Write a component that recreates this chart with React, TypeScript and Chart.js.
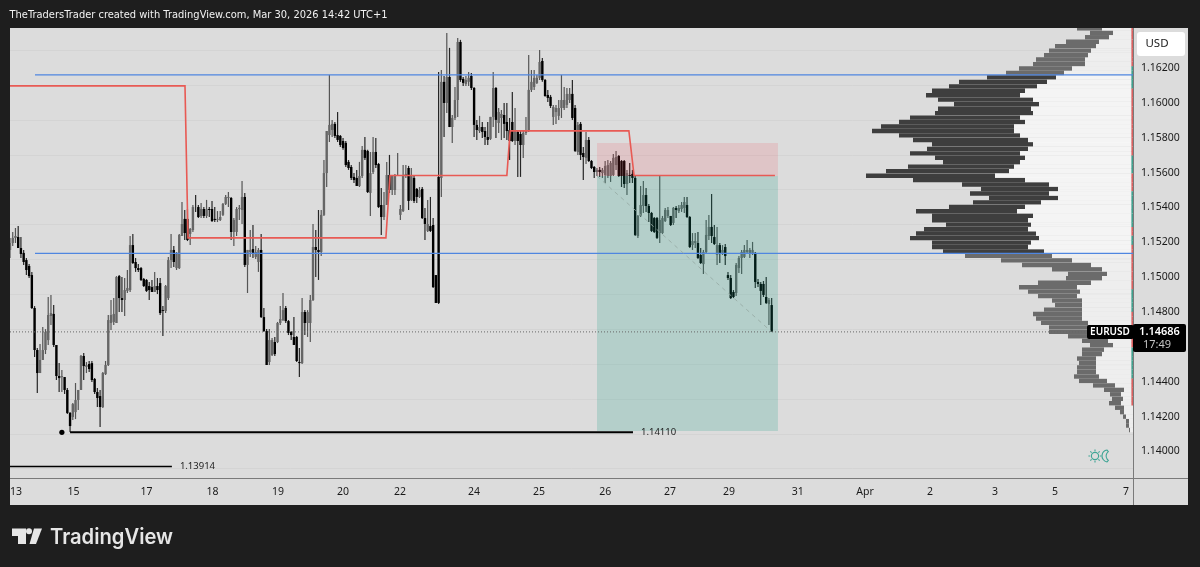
import React, { useEffect, useRef } from "react";
import { Chart, registerables } from "chart.js";

Chart.register(...registerables);

const opens = [
1.15156,1.15196,1.15225,1.15230,1.15167,1.15139,1.15098,1.15064,1.15012,1.14823,
1.14582,1.14450,1.14525,1.14582,1.14639,1.14777,1.14789,1.14611,1.14433,1.14427,
1.14427,1.14353,1.14221,1.14198,1.14226,1.14295,1.14353,1.14548,1.14485,1.14502,
1.14507,1.14416,1.14341,1.14318,1.14255,1.14444,1.14496,1.14737,1.14743,1.14737,
1.15006,1.14880,1.14869,1.14921,1.14926,1.15184,1.15087,1.15052,1.15052,1.14989,
1.14984,1.14949,1.14943,1.14915,1.14949,1.14966,1.14811,1.14806,1.14880,1.15098,
1.15156,1.15052,1.15052,1.15236,1.15334,1.15334,1.15248,1.15270,1.15397,1.15402,
1.15351,1.15391,1.15351,1.15391,1.15391,1.15334,1.15328,1.15328,1.15357,1.15420,
1.15454,1.15454,1.15259,1.15259,1.15391,1.15385,1.15460,1.15070,1.15144,1.15161,
1.15116,1.15087,1.15156,1.14771,1.14691,1.14513,1.14553,1.14628,1.14628,1.14737,
1.14754,1.14823,1.14748,1.14685,1.14657,1.14657,1.14513,1.14507,1.14800,1.14737,
1.14737,1.14869,1.15173,1.15156,1.15144,1.15357,1.15597,1.15815,1.15844,1.15879,
1.15815,1.15810,1.15781,1.15770,1.15661,1.15632,1.15575,1.15569,1.15523,1.15580,
1.15730,1.15724,1.15483,1.15603,1.15718,1.15649,1.15414,1.15345,1.15414,1.15586,
1.15500,1.15500,1.15580,1.15357,1.15379,1.15586,1.15626,1.15443,1.15569,1.15506,
1.15460,1.15506,1.15339,1.15265,1.15293,1.15299,1.15012,1.15575,1.15569,1.16120,
1.15999,1.16148,1.15861,1.15913,1.16016,1.16349,1.16137,1.16108,1.16120,1.16154,
1.16085,1.15873,1.15838,1.15861,1.15838,1.15804,1.15793,1.15919,1.16085,1.15884,
1.15913,1.15930,1.15890,1.15844,1.15890,1.15781,1.15833,1.15821,1.15758,1.15827,
1.15838,1.16074,1.16091,1.16114,1.16143,1.16240,1.16131,1.16045,1.16034,1.15919,
1.15947,1.15925,1.15970,1.15970,1.15988,1.16016,1.16051,1.15970,1.15718,1.15879,
1.15712,1.15684,1.15787,1.15666,1.15632,1.15603,1.15615,1.15597,1.15586,1.15580,
1.15580,1.15586,1.15643,1.15695,1.15666,1.15666,1.15534,1.15586,1.15592,1.15569,
1.15236,1.15351,1.15408,1.15471,1.15408,1.15368,1.15339,1.15339,1.15253,1.15253,
1.15322,1.15351,1.15351,1.15311,1.15397,1.15379,1.15391,1.15397,1.15414,1.15345,
1.15184,1.15196,1.15196,1.15127,1.15075,1.15144,1.15236,1.15288,1.15230,1.15127,
1.15184,1.15133,1.15173,1.15012,1.14995,1.14915,1.14909,1.15052,1.15110,1.15116,
1.15144,1.15133,1.15133,1.15139,1.14972,1.14961,1.14961,1.14886,1.14846,1.14840,
];

const highs = [
1.15225,1.15259,1.15282,1.15293,1.15230,1.15156,1.15110,1.15075,1.15030,1.14834,
1.14593,1.14616,1.14714,1.14702,1.14886,1.14898,1.14840,1.14611,1.14507,1.14467,
1.14427,1.14364,1.14226,1.14278,1.14393,1.14353,1.14553,1.14565,1.14513,1.14519,
1.14519,1.14421,1.14364,1.14353,1.14456,1.14519,1.14783,1.14869,1.14880,1.15006,
1.15012,1.15001,1.14995,1.15041,1.15236,1.15248,1.15110,1.15075,1.15058,1.14995,
1.14989,1.14972,1.14984,1.15030,1.14995,1.14995,1.14834,1.14955,1.15116,1.15248,
1.15179,1.15144,1.15248,1.15431,1.15385,1.15391,1.15282,1.15414,1.15471,1.15414,
1.15425,1.15402,1.15443,1.15402,1.15437,1.15402,1.15379,1.15379,1.15425,1.15471,
1.15488,1.15460,1.15339,1.15402,1.15414,1.15552,1.15483,1.15156,1.15270,1.15299,
1.15179,1.15167,1.15248,1.14823,1.14702,1.14702,1.14651,1.14657,1.14743,1.14834,
1.14909,1.14834,1.14754,1.14691,1.14771,1.14662,1.14593,1.14880,1.14811,1.14811,
1.14898,1.15305,1.15270,1.15385,1.15385,1.15672,1.15838,1.16160,1.15902,1.15890,
1.15947,1.15815,1.15798,1.15781,1.15672,1.15643,1.15597,1.15615,1.15661,1.15752,
1.15804,1.15730,1.15718,1.15804,1.15798,1.15655,1.15511,1.15488,1.15661,1.15701,
1.15586,1.15592,1.15712,1.15414,1.15643,1.15643,1.15638,1.15626,1.15586,1.15511,
1.15517,1.15517,1.15397,1.15443,1.15460,1.15339,1.15012,1.16177,1.16188,1.16154,
1.16401,1.16315,1.15930,1.16091,1.16372,1.16361,1.16148,1.16154,1.16177,1.16171,
1.16091,1.15902,1.15925,1.15890,1.15861,1.15890,1.15919,1.16177,1.16091,1.15970,
1.15959,1.15999,1.15999,1.15913,1.16062,1.15970,1.15844,1.15844,1.15844,1.15919,
1.16274,1.16188,1.16188,1.16160,1.16303,1.16257,1.16137,1.16074,1.16045,1.15988,
1.15988,1.16016,1.16160,1.16091,1.16085,1.16085,1.16131,1.15988,1.15890,1.15890,
1.15747,1.15833,1.15804,1.15672,1.15638,1.15626,1.15632,1.15626,1.15666,1.15672,
1.15666,1.15707,1.15724,1.15701,1.15672,1.15672,1.15615,1.15655,1.15615,1.15580,
1.15357,1.15523,1.15552,1.15511,1.15420,1.15374,1.15345,1.15345,1.15580,1.15351,
1.15397,1.15402,1.15351,1.15402,1.15408,1.15414,1.15431,1.15460,1.15460,1.15351,
1.15253,1.15253,1.15259,1.15167,1.15156,1.15328,1.15357,1.15477,1.15299,1.15288,
1.15196,1.15184,1.15190,1.15030,1.15012,1.14926,1.15081,1.15121,1.15156,1.15184,
1.15213,1.15167,1.15202,1.15144,1.14989,1.14972,1.14978,1.15001,1.14880,1.14880,
];

const lows = [
1.15110,1.15179,1.15196,1.15167,1.15110,1.15070,1.15012,1.14995,1.14817,1.14542,
1.14335,1.14450,1.14525,1.14559,1.14611,1.14725,1.14599,1.14410,1.14341,1.14341,
1.14330,1.14215,1.14112,1.14180,1.14186,1.14238,1.14353,1.14410,1.14450,1.14456,
1.14399,1.14330,1.14255,1.14140,1.14249,1.14439,1.14490,1.14697,1.14725,1.14737,
1.14800,1.14800,1.14777,1.14909,1.14915,1.15075,1.15030,1.15030,1.14978,1.14943,
1.14915,1.14869,1.14915,1.14915,1.14903,1.14783,1.14662,1.14794,1.14869,1.15052,
1.15058,1.15041,1.15047,1.15236,1.15213,1.15207,1.15184,1.15259,1.15374,1.15339,
1.15339,1.15339,1.15339,1.15345,1.15316,1.15316,1.15316,1.15322,1.15351,1.15414,
1.15402,1.15213,1.15179,1.15236,1.15328,1.15305,1.15058,1.14909,1.15116,1.15110,
1.15104,1.15030,1.14766,1.14685,1.14496,1.14496,1.14548,1.14548,1.14622,1.14725,
1.14748,1.14737,1.14668,1.14639,1.14611,1.14513,1.14427,1.14502,1.14668,1.14657,
1.14628,1.14863,1.15001,1.14984,1.15121,1.15351,1.15517,1.15775,1.15804,1.15798,
1.15775,1.15747,1.15730,1.15632,1.15615,1.15557,1.15540,1.15523,1.15517,1.15569,
1.15672,1.15483,1.15351,1.15592,1.15626,1.15397,1.15242,1.15328,1.15414,1.15483,
1.15471,1.15471,1.15580,1.15328,1.15374,1.15569,1.15385,1.15437,1.15425,1.15425,
1.15454,1.15334,1.15213,1.15259,1.15259,1.14938,1.14852,1.14846,1.15460,1.15804,
1.15942,1.15861,1.15770,1.15902,1.15919,1.16120,1.16097,1.16097,1.16097,1.16074,
1.15804,1.15787,1.15827,1.15798,1.15758,1.15758,1.15787,1.15861,1.15798,1.15827,
1.15787,1.15798,1.15787,1.15672,1.15775,1.15758,1.15575,1.15575,1.15684,1.15815,
1.15833,1.16062,1.16074,1.16108,1.16131,1.16120,1.16034,1.16005,1.15970,1.15873,
1.15879,1.15902,1.15913,1.15959,1.15970,1.15999,1.15902,1.15718,1.15701,1.15672,
1.15557,1.15649,1.15661,1.15620,1.15569,1.15580,1.15575,1.15569,1.15540,1.15569,
1.15546,1.15580,1.15615,1.15575,1.15517,1.15511,1.15471,1.15540,1.15540,1.15236,
1.15225,1.15345,1.15368,1.15374,1.15316,1.15259,1.15253,1.15219,1.15196,1.15248,
1.15316,1.15339,1.15293,1.15299,1.15339,1.15368,1.15374,1.15368,1.15339,1.15167,
1.15156,1.15167,1.15104,1.15075,1.15018,1.15139,1.15213,1.15196,1.15184,1.15070,
1.15081,1.15127,1.15070,1.14984,1.14875,1.14880,1.14892,1.15024,1.15018,1.15110,
1.15133,1.15110,1.15127,1.14938,1.14943,1.14840,1.14886,1.14846,1.14725,1.14685,
];

const closes = [
1.15196,1.15225,1.15236,1.15167,1.15133,1.15087,1.15041,1.15006,1.14823,1.14582,
1.14450,1.14525,1.14582,1.14685,1.14783,1.14794,1.14611,1.14433,1.14421,1.14433,
1.14353,1.14221,1.14146,1.14272,1.14295,1.14353,1.14548,1.14490,1.14496,1.14473,
1.14410,1.14341,1.14307,1.14255,1.14450,1.14496,1.14754,1.14783,1.14789,1.15001,
1.14880,1.14869,1.14926,1.14938,1.15184,1.15081,1.15052,1.15041,1.14984,1.14949,
1.14921,1.14926,1.14915,1.14949,1.14926,1.14794,1.14806,1.14949,1.15098,1.15156,
1.15087,1.15139,1.15242,1.15305,1.15253,1.15213,1.15276,1.15402,1.15397,1.15345,
1.15391,1.15351,1.15391,1.15385,1.15322,1.15328,1.15334,1.15345,1.15420,1.15460,
1.15460,1.15259,1.15328,1.15391,1.15397,1.15460,1.15070,1.15156,1.15156,1.15139,
1.15144,1.15156,1.14771,1.14691,1.14496,1.14639,1.14639,1.14559,1.14737,1.14760,
1.14811,1.14748,1.14680,1.14668,1.14611,1.14519,1.14507,1.14800,1.14737,1.14800,
1.14869,1.15173,1.15156,1.15144,1.15357,1.15597,1.15838,1.15873,1.15879,1.15810,
1.15787,1.15758,1.15741,1.15643,1.15626,1.15569,1.15557,1.15523,1.15580,1.15730,
1.15684,1.15488,1.15597,1.15718,1.15643,1.15402,1.15345,1.15414,1.15586,1.15500,
1.15580,1.15580,1.15586,1.15391,1.15586,1.15592,1.15437,1.15586,1.15437,1.15460,
1.15500,1.15339,1.15305,1.15305,1.15265,1.14943,1.14852,1.14852,1.16120,1.15999,
1.16148,1.15861,1.15913,1.16016,1.16349,1.16131,1.16114,1.16131,1.16143,1.16085,
1.15873,1.15844,1.15861,1.15833,1.15804,1.15787,1.15919,1.16085,1.15902,1.15947,
1.15936,1.15879,1.15838,1.15781,1.15781,1.15844,1.15781,1.15758,1.15827,1.15844,
1.16074,1.16120,1.16143,1.16143,1.16234,1.16131,1.16039,1.16028,1.15982,1.15976,
1.15970,1.15970,1.16016,1.16016,1.16051,1.16051,1.15913,1.15724,1.15873,1.15701,
1.15689,1.15787,1.15666,1.15626,1.15603,1.15615,1.15603,1.15615,1.15638,1.15643,
1.15655,1.15684,1.15689,1.15580,1.15580,1.15534,1.15597,1.15580,1.15569,1.15242,
1.15351,1.15414,1.15471,1.15408,1.15368,1.15265,1.15259,1.15225,1.15328,1.15339,
1.15385,1.15385,1.15299,1.15397,1.15385,1.15397,1.15414,1.15431,1.15345,1.15173,
1.15207,1.15207,1.15110,1.15081,1.15144,1.15242,1.15288,1.15236,1.15190,1.15184,
1.15133,1.15156,1.15121,1.14995,1.14880,1.14886,1.15070,1.15110,1.15144,1.15156,
1.15156,1.15156,1.15156,1.14972,1.14961,1.14921,1.14898,1.14852,1.14869,1.14686,
];

const profilePrices = [
1.16427,1.16401,1.16376,1.16350,1.16325,1.16299,1.16273,1.16248,1.16222,1.16197,
1.16171,1.16146,1.16120,1.16094,1.16069,1.16043,1.16018,1.15992,1.15966,1.15941,
1.15915,1.15890,1.15864,1.15838,1.15813,1.15787,1.15762,1.15736,1.15710,1.15685,
1.15659,1.15634,1.15608,1.15582,1.15557,1.15531,1.15506,1.15480,1.15454,1.15429,
1.15403,1.15378,1.15352,1.15326,1.15301,1.15275,1.15250,1.15224,1.15198,1.15173,
1.15147,1.15122,1.15096,1.15070,1.15045,1.15019,1.14994,1.14968,1.14942,1.14917,
1.14891,1.14866,1.14840,1.14814,1.14789,1.14763,1.14738,1.14712,1.14686,1.14661,
1.14635,1.14610,1.14584,1.14558,1.14533,1.14507,1.14482,1.14456,1.14430,1.14405,
1.14379,1.14354,1.14328,1.14302,1.14277,1.14251,1.14226,1.14200,1.14174,1.14149,
1.14123,
];
const profileUpVolume = [
31,20,24,34,37,42,45,48,48,61,69,77,86,96,108,113,100,94,102,100,
113,108,119,119,113,105,100,105,113,108,113,119,124,138,108,84,75,84,75,92,
108,116,100,105,102,105,97,94,102,105,89,81,61,42,31,26,31,42,56,53,
56,51,51,51,51,51,45,42,40,33,25,20,29,31,37,37,37,37,34,26,
18,9,12,10,12,9,9,7,4,4,3,
];
const profileTotalVolume = [
56,43,48,67,78,84,89,97,100,114,127,146,174,184,201,207,195,179,195,198,
223,234,252,261,234,220,201,206,223,198,190,225,247,267,220,171,152,163,144,160,
184,217,201,201,187,209,217,223,201,201,190,168,132,111,81,65,67,95,114,105,
95,81,78,89,100,97,92,84,84,65,51,43,51,51,56,54,56,56,59,54,
40,29,23,21,24,18,13,10,7,7,4,
];
const profileEdgeSides =
  "rrrrrrrrrtttttrrrrrrrrrrrrrrrttttrrrrttttttttrrttrrrrrrrrrrtttttrrrrrrrrtttttttrrrrrr------";
const VALUE_AREA_TOP_ROW = 11;
const VALUE_AREA_BOTTOM_ROW = 50;

const priceTicks = [1.162, 1.16, 1.158, 1.156, 1.154, 1.152, 1.15, 1.148, 1.146, 1.144, 1.142, 1.14];
const hiddenPriceTick = 1.146;
const timeTickSlots = [2.2, 23.3, 50, 74.2, 98.2, 122, 142.9, 170, 193.8, 218, 241.8, 263.4, 288.6, 313.2, 337, 360.8, 382.8, 408.8];
const timeTickLabels = ["13", "15", "17", "18", "19", "20", "22", "24", "25", "26", "27", "29", "31", "Apr", "2", "3", "5", "7"];

const SLOT_MAX = 411.36;
const stepSlots = [0, 64.1, 65.2, 137.7, 139.2, 182, 183.2, 226.7, 228.6, 280.2];
const stepPrices = [1.16097, 1.16097, 1.15225, 1.15225, 1.15583, 1.15583, 1.15839, 1.15839, 1.15583, 1.15583];
const blueLevels = [1.1616, 1.15136];
const blueStartSlot = 9.16;
const lowLine = { price: 1.1411, from: 22, to: 228.2, dot: 19, label: "1.14110" };
const lowerLine = { price: 1.13914, from: 0, to: 59.3, label: "1.13914" };
const tradeBox = { from: 215, to: 281.3, stop: 1.1577, entry: 1.1558, target: 1.14118 };
const tradePathEnd = { slot: 279, price: 1.14686 };
const lastPrice = 1.14686;

const TITLE = "TheTradersTrader created with TradingView.com, Mar 30, 2026 14:42 UTC+1";
const AXIS_FONT = '"Noto Sans", sans-serif';

const chromePlugin = {
  id: "chrome",
  beforeDraw(chart: any) {
    const c = chart.ctx;
    c.save();
    c.fillStyle = "#1e1e1e";
    c.fillRect(0, 0, 1200, 567);
    c.fillStyle = "#dcdcdc";
    c.fillRect(10, 28, 1178, 477);
    c.restore();
  },
  afterDraw(chart: any) {
    const c = chart.ctx;
    const y = chart.scales.y;
    const x = chart.scales.x;
    c.save();
    // separators
    c.strokeStyle = "#7a7a7a";
    c.lineWidth = 1;
    c.beginPath();
    c.moveTo(1133.5, 478);
    c.lineTo(1133.5, 505);
    c.moveTo(1133, 478.5);
    c.lineTo(1188, 478.5);
    c.stroke();

    // header
    c.fillStyle = "#f2f2f2";
    c.textBaseline = "middle";
    c.textAlign = "left";
    c.font = '10.2px "DejaVu Sans", sans-serif';
    c.fillText(TITLE, 9.5, 15, 378);

    // labels of the horizontal rays
    c.fillStyle = "#222";
    c.font = '9.5px ' + AXIS_FONT;
    c.fillText(lowLine.label, x.getPixelForValue(lowLine.to) + 8, y.getPixelForValue(lowLine.price));
    c.fillText(lowerLine.label, x.getPixelForValue(lowerLine.to) + 8, y.getPixelForValue(lowerLine.price));

    // currency button
    c.fillStyle = "#ffffff";
    c.beginPath();
    c.roundRect(1137, 32, 48, 24, 3);
    c.fill();
    c.fillStyle = "#1a1a1a";
    c.textAlign = "center";
    c.font = '11.5px ' + AXIS_FONT;
    c.fillText("USD", 1157, 44);

    // last price tags
    const py = y.getPixelForValue(lastPrice);
    c.fillStyle = "#000";
    c.beginPath();
    c.roundRect(1087, py - 7, 47, 14, 2);
    c.fill();
    c.beginPath();
    c.roundRect(1133, py - 8, 53, 28, 2);
    c.fill();
    c.fillStyle = "#fff";
    c.font = '600 10px ' + AXIS_FONT;
    c.fillText("EURUSD", 1110, py);
    c.font = '600 11px ' + AXIS_FONT;
    c.fillText("1.14686", 1159.5, py);
    c.fillStyle = "#c4c4c4";
    c.font = '11px ' + AXIS_FONT;
    c.textAlign = "left";
    c.fillText("17:49", 1143, py + 13);

    // session icon: sun and moon
    c.strokeStyle = "#3fa595";
    c.lineWidth = 1.1;
    c.beginPath();
    c.arc(1095, 456, 3.6, 0, Math.PI * 2);
    for (let a = 0; a < 8; a++) {
      const t = (a * Math.PI) / 4;
      c.moveTo(1095 + Math.cos(t) * 4.8, 456 + Math.sin(t) * 4.8);
      c.lineTo(1095 + Math.cos(t) * 6.6, 456 + Math.sin(t) * 6.6);
    }
    c.stroke();
    c.beginPath();
    c.arc(1108, 456, 6, Math.PI * 0.55, Math.PI * 1.45);
    c.arc(1111.5, 456, 5.4, Math.PI * 1.3, Math.PI * 0.7, true);
    c.closePath();
    c.stroke();

    // brand
    c.fillStyle = "#e6e6e6";
    c.beginPath();
    c.moveTo(12, 528.5);
    c.lineTo(26, 528.5);
    c.lineTo(26, 544);
    c.lineTo(18, 544);
    c.lineTo(18, 536);
    c.lineTo(12, 536);
    c.closePath();
    c.fill();
    c.beginPath();
    c.arc(29, 531.3, 3, 0, Math.PI * 2);
    c.fill();
    c.beginPath();
    c.moveTo(34, 528.5);
    c.lineTo(42, 528.5);
    c.lineTo(36, 544);
    c.lineTo(29.5, 544);
    c.closePath();
    c.fill();
    c.textAlign = "left";
    c.textBaseline = "alphabetic";
    c.font = '600 21px Inter, sans-serif';
    c.fillText("TradingView", 50, 544, 123);
    c.restore();
  },
};

export default function App() {
  const ref = useRef<HTMLCanvasElement>(null);
  useEffect(() => {
    const slots = opens.map((_, i) => i);
    const isUp = (i: number) => closes[i] > opens[i];
    const isValueArea = (i: number) => i >= VALUE_AREA_TOP_ROW && i <= VALUE_AREA_BOTTOM_ROW;
    const hLine = (price: number, from: number, to: number) => [
      { x: from, y: price },
      { x: to, y: price },
    ];
    const base = { pointRadius: 0, tension: 0, fill: false };
    const chart = new Chart(ref.current as HTMLCanvasElement, {
      type: "bar",
      data: {
        datasets: [
          {
            type: "bar", indexAxis: "y", xAxisID: "vol", yAxisID: "y", grouped: false, order: 11,
            barThickness: 4.4, inflateAmount: 0,
            data: profilePrices.map((p, i) => ({ y: p, x: [0, profileUpVolume[i]] })),
            backgroundColor: profilePrices.map((_, i) => (isValueArea(i) ? "rgba(255,255,255,0.68)" : "rgba(255,255,255,0.5)")),
          },
          {
            type: "bar", indexAxis: "y", xAxisID: "vol", yAxisID: "y", grouped: false, order: 11,
            barThickness: 4.4, inflateAmount: 0,
            data: profilePrices.map((p, i) => ({ y: p, x: [profileUpVolume[i], profileTotalVolume[i]] })),
            backgroundColor: profilePrices.map((_, i) => (isValueArea(i) ? "#3e3e3e" : "#6b6b6b")),
          },
          {
            type: "bar", indexAxis: "y", xAxisID: "vol", yAxisID: "y", grouped: false, order: 10,
            barThickness: 4.6, inflateAmount: 0,
            data: profilePrices.map((p, i) => ({ y: p, x: [0, profileEdgeSides[i] === "-" ? 0 : 1.6] })),
            backgroundColor: profilePrices.map((_, i) => (profileEdgeSides[i] === "t" ? "#3f9f8c" : "#d9605f")),
          },
          {
            type: "bar", grouped: false, order: 9, barThickness: 1.2, inflateAmount: 0,
            data: slots.map((i) => ({ x: i, y: [lows[i], highs[i]] })),
            backgroundColor: slots.map((i) => (isUp(i) ? "#555555" : "#262626")),
          },
          {
            type: "bar", grouped: false, order: 8, barThickness: 2.4, inflateAmount: 0,
            data: slots.map((i) => ({ x: i, y: [opens[i], closes[i]] })),
            backgroundColor: slots.map((i) => (isUp(i) ? "#666666" : "#000000")),
          },
          {
            type: "line", ...base, order: 7, borderWidth: 0,
            data: hLine(tradeBox.stop, tradeBox.from, tradeBox.to),
            fill: { value: tradeBox.entry }, backgroundColor: "rgba(242,54,69,0.14)",
          },
          {
            type: "line", ...base, order: 7, borderWidth: 0,
            data: hLine(tradeBox.entry, tradeBox.from, tradeBox.to),
            fill: { value: tradeBox.target }, backgroundColor: "rgba(8,153,129,0.19)",
          },
          ...blueLevels.map((lvl) => ({
            type: "line", ...base, order: 6, borderWidth: 1.3, borderColor: "#4f86e0",
            data: hLine(lvl, blueStartSlot, SLOT_MAX),
          })),
          {
            type: "line", ...base, order: 5, borderWidth: 1.6, borderColor: "#e85a54",
            data: stepSlots.map((s, i) => ({ x: s, y: stepPrices[i] })),
          },
          {
            type: "line", ...base, order: 4, borderWidth: 2, borderColor: "#000",
            data: hLine(lowLine.price, lowLine.from, lowLine.to),
          },
          {
            type: "line", ...base, order: 4, showLine: false, pointRadius: 2.6, pointBackgroundColor: "#000", pointBorderWidth: 0,
            data: [{ x: lowLine.dot, y: lowLine.price }],
          },
          {
            type: "line", ...base, order: 4, borderWidth: 1.6, borderColor: "#000",
            data: hLine(lowerLine.price, lowerLine.from, lowerLine.to),
          },
          {
            type: "line", ...base, order: 3, borderWidth: 1, borderColor: "rgba(150,170,165,0.85)", borderDash: [4, 4],
            data: [
              { x: tradeBox.from, y: tradeBox.entry },
              { x: tradePathEnd.slot, y: tradePathEnd.price },
            ],
          },
          {
            type: "line", ...base, order: 2, borderWidth: 1, borderColor: "#666", borderDash: [1, 2],
            data: hLine(lastPrice, 0, SLOT_MAX),
          },
        ] as any,
      },
      options: {
        responsive: false,
        animation: false,
        devicePixelRatio: 1,
        events: [],
        layout: { padding: { left: 10, top: 28, right: 12, bottom: 62 } },
        plugins: { legend: { display: false }, tooltip: { enabled: false }, title: { display: false } },
        scales: {
          x: {
            type: "linear", offset: false, min: 0, max: SLOT_MAX, position: "bottom",
            grid: { display: false, drawTicks: false },
            border: { color: "#7a7a7a", width: 1 },
            afterFit: (s: any) => { s.height = 27; },
            afterBuildTicks: (s: any) => { s.ticks = timeTickSlots.map((value) => ({ value })); },
            ticks: {
              autoSkip: false, maxRotation: 0, padding: 8, color: "#1a1a1a",
              font: { family: AXIS_FONT, size: 10.5 },
              callback: (_v: any, i: number) => timeTickLabels[i],
            },
          },
          vol: {
            type: "linear", axis: "x", display: false, reverse: true, offset: false, min: 0, max: 1123,
            grid: { display: false },
          },
          y: {
            type: "linear", position: "right", min: 1.13848, max: 1.16429, beginAtZero: false, offset: false,
            grid: { color: "#d4d4d4", lineWidth: 1, drawTicks: false },
            border: { color: "#7a7a7a", width: 1 },
            afterFit: (s: any) => { s.width = 55; },
            afterBuildTicks: (s: any) => { s.ticks = priceTicks.map((value) => ({ value })); },
            ticks: {
              autoSkip: false, padding: 8, color: "#1a1a1a", align: "center",
              font: { family: AXIS_FONT, size: 10.5 },
              callback: (v: any) => (v === hiddenPriceTick ? "" : Number(v).toFixed(5)),
            },
          },
        },
      } as any,
      plugins: [chromePlugin as any],
    } as any);
    return () => chart.destroy();
  }, []);
  return (
    <div style={{ position: "absolute", left: 0, top: 0, width: 1200, height: 567, background: "#1e1e1e", overflow: "hidden" }}>
      <canvas ref={ref} width={1200} height={567} style={{ display: "block", width: 1200, height: 567 }} />
    </div>
  );
}
